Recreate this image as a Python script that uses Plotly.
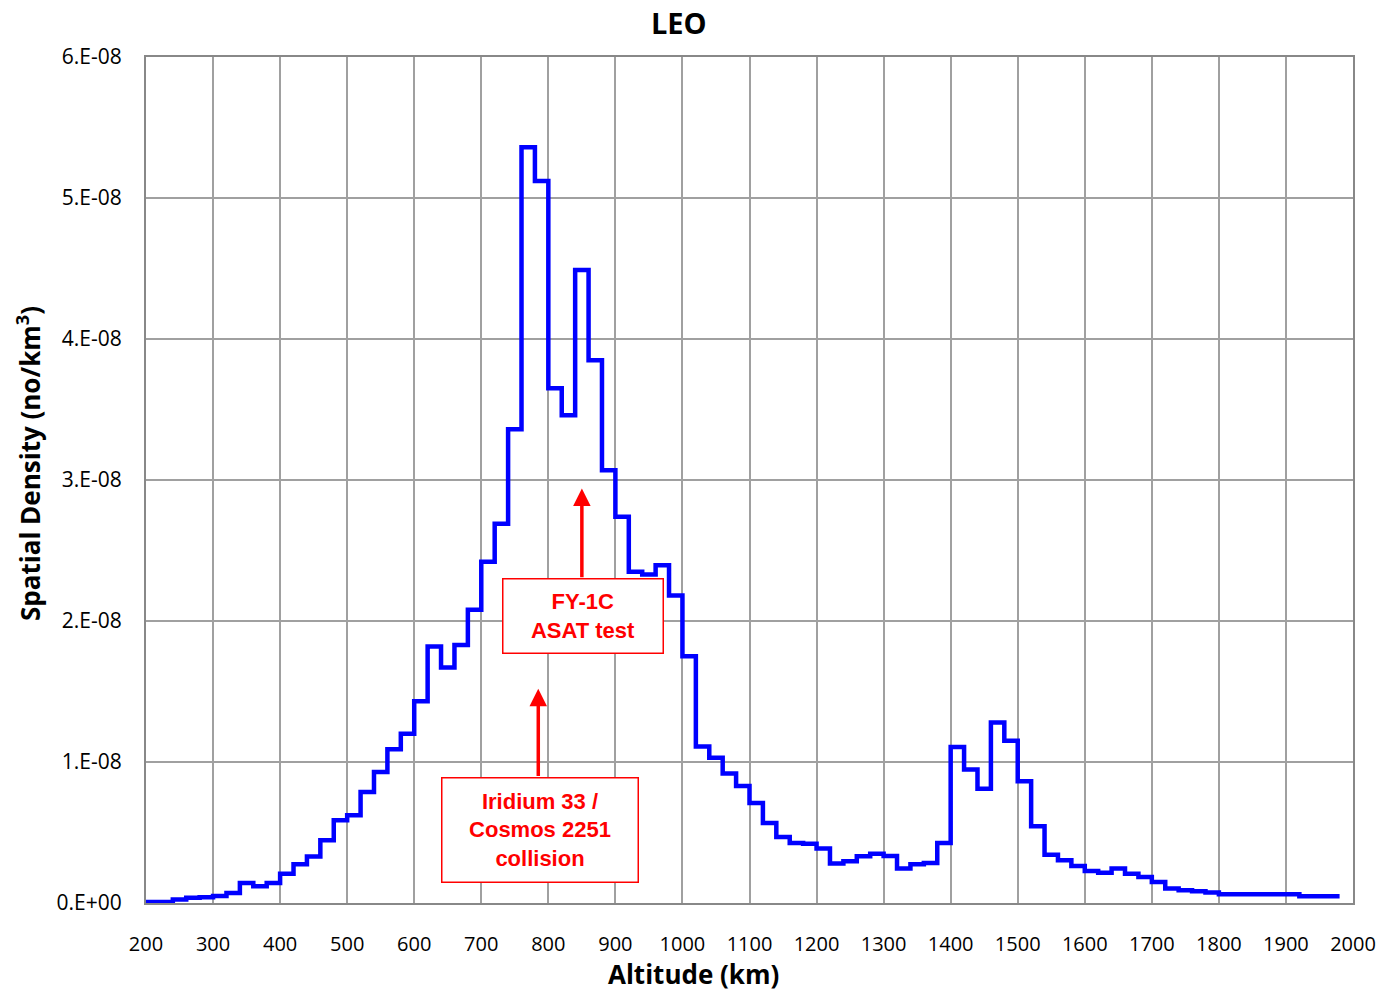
import plotly.graph_objects as go

# Bin starts (km), 20 km bins
altitude_bins = list(range(200, 1980, 20))
# Spatial density in units of 1e-9 objects/km^3
density_e9 = [
    0.07, 0.07, 0.24, 0.38, 0.40, 0.50, 0.71, 1.42, 1.18, 1.42,   # 200-380
    2.08, 2.74, 3.30, 4.45, 5.87, 6.22, 7.87, 9.29, 10.9, 12.0,   # 400-580
    14.3, 18.2, 16.7, 18.3, 20.8, 24.2, 26.9, 33.6, 53.6, 51.2,   # 600-780
    36.5, 34.6, 44.9, 38.5, 30.7, 27.4, 23.5, 23.3, 23.95, 21.8,  # 800-980
    17.5, 11.1, 10.3, 9.18, 8.3, 7.1, 5.67, 4.68, 4.25, 4.2,      # 1000-1180
    3.86, 2.8, 2.96, 3.31, 3.5, 3.33, 2.44, 2.74, 2.84, 4.26,     # 1200-1380
    11.06, 9.46, 8.11, 12.8, 11.5, 8.63, 5.44, 3.43, 3.03, 2.62,  # 1400-1580
    2.27, 2.15, 2.44, 2.08, 1.84, 1.49, 1.02, 0.90, 0.83, 0.74,   # 1600-1780
    0.62, 0.62, 0.62, 0.62, 0.62, 0.62, 0.48, 0.48, 0.48,         # 1800-1960
]
bin_width = 20

x_ticks = list(range(200, 2001, 100))
y_tickvals = [0, 1e-8, 2e-8, 3e-8, 4e-8, 5e-8, 6e-8]
y_ticktext = ["0.E+00", "1.E-08", "2.E-08", "3.E-08", "4.E-08", "5.E-08", "6.E-08"]

x_title = "<b>Altitude (km)</b>"
y_title = "<b>Spatial Density (no/km<sup>3</sup>)</b>"

# Annotations
fy_text = "FY-1C<br>ASAT test"
fy_box = (852, 2.035e-8)
fy_arrow = (850, 2.30e-8, 2.94e-8)   # alt, tail density, head density
ir_text = "Iridium 33 /<br>Cosmos 2251<br>collision"
ir_box = (787, 0.52e-8)
ir_arrow = (785, 0.89e-8, 1.52e-8)

xs = altitude_bins + [altitude_bins[-1] + bin_width]
ys = [v * 1e-9 for v in density_e9]
ys = ys + [ys[-1]]

fig = go.Figure()
fig.add_trace(go.Scatter(x=xs, y=ys, mode="lines", line=dict(color="#0000FF", width=4.5, shape="hv"),
                         showlegend=False, hoverinfo="skip"))

red = "#FF0000"
for (ax_x, tail_y, head_y) in [fy_arrow, ir_arrow]:
    fig.add_annotation(x=ax_x, y=head_y, ax=ax_x, ay=tail_y, xref="x", yref="y", axref="x", ayref="y",
                       text="", showarrow=True, arrowhead=2, arrowsize=1, arrowwidth=3.5, arrowcolor=red)

fig.add_annotation(x=fy_box[0], y=fy_box[1], xref="x", yref="y", text=fy_text, showarrow=False,
                   font=dict(family="Liberation Sans", size=22, color=red, weight="bold"),
                   bordercolor=red, borderwidth=1.5, bgcolor="white", width=157, height=71, align="center")
fig.add_annotation(x=ir_box[0], y=ir_box[1], xref="x", yref="y", text=ir_text, showarrow=False,
                   font=dict(family="Liberation Sans", size=22, color=red, weight="bold"),
                   bordercolor=red, borderwidth=1.5, bgcolor="white", width=193, height=101, align="center")

# Axis titles (centred on the chart area, as in the original)
fig.add_annotation(x=0.454, y=-0.084, xref="paper", yref="paper", text=x_title, showarrow=False,
                   xanchor="center", yanchor="middle",
                   font=dict(family="Open Sans", size=26, color="black"))
fig.add_annotation(x=-0.097, y=0.52, xref="paper", yref="paper", text=y_title, showarrow=False,
                   xanchor="center", yanchor="middle", textangle=-90,
                   font=dict(family="Open Sans", size=26, color="black"))

grid = "#a0a0a0"
fig.update_layout(
    width=1372, height=986,
    margin=dict(l=138, r=27, t=49, b=91, autoexpand=False),
    paper_bgcolor="white", plot_bgcolor="white",
    title=dict(text="<b>LEO</b>", x=0.4889, xanchor="center", y=0.984, yanchor="middle",
               font=dict(family="Open Sans", size=29, color="black")),
    xaxis=dict(range=[200, 2000], tickvals=x_ticks, ticktext=[str(t) for t in x_ticks],
               automargin=False,
               showgrid=True, gridcolor=grid, gridwidth=1.5, showline=True, linecolor="#888888",
               linewidth=2, mirror=True, ticks="", zeroline=False,
               tickfont=dict(family="Open Sans", size=20, color="black"), ticklabelstandoff=22),
    yaxis=dict(range=[0, 6e-8], tickvals=y_tickvals, ticktext=y_ticktext,
               automargin=False,
               showgrid=True, gridcolor=grid, gridwidth=1.5, showline=True, linecolor="#888888",
               linewidth=2, mirror=True, ticks="", zeroline=False,
               tickfont=dict(family="Open Sans", size=21, color="black"), ticklabelstandoff=18),
)

fig.write_html("out.html")
